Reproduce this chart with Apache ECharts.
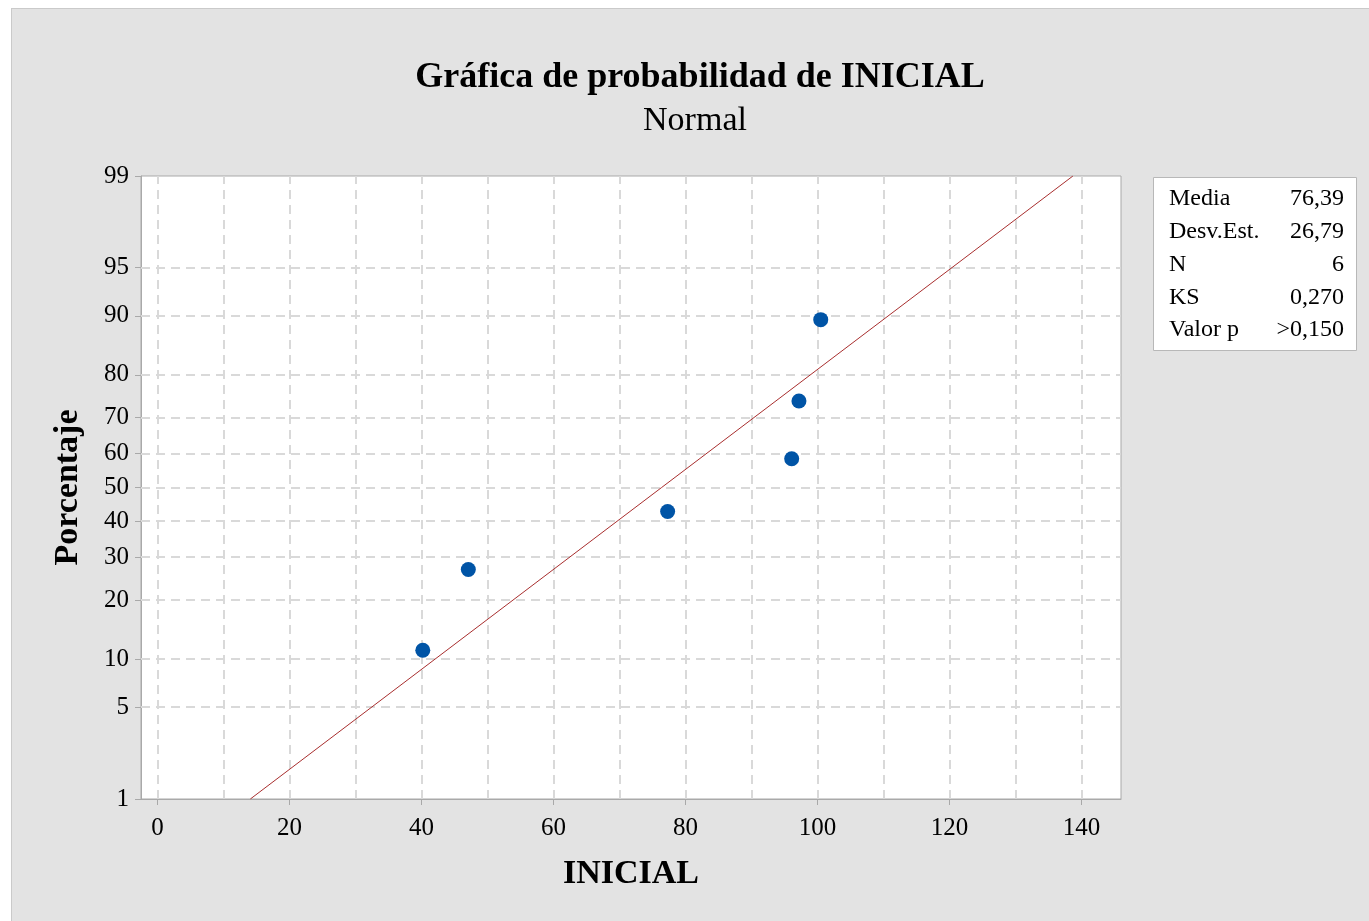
<!DOCTYPE html>
<html>
<head>
<meta charset="utf-8">
<script src="https://cdn.jsdelivr.net/npm/echarts@6/dist/echarts.min.js"></script>
<style>
  html, body { margin: 0; padding: 0; background: #ffffff; }
  #bg { position: absolute; left: 11px; top: 8px; width: 1358px; height: 913px;
        background: #e3e3e3; border-left: 1px solid #cacaca; border-top: 1px solid #cacaca;
        box-sizing: border-box; }
  #chart { position: absolute; left: 0; top: 0; width: 1369px; height: 921px; }
</style>
</head>
<body>
<div id="bg"></div>
<div id="chart"></div>
<script>
// Observations of INICIAL and their plotted percentages
const inicialValues = [40.2, 47.1, 77.3, 96.1, 97.2, 100.5];
const percentRanks  = [11.2, 27.0, 42.9, 58.5, 74.1, 89.5];

// Fitted normal line (mean ± z·sd at 1% and 99%)
const fitX   = [14.07, 138.71];
const fitPct = [1, 99];

// Axis ticks
const yTickPct    = [1, 5, 10, 20, 30, 40, 50, 60, 70, 80, 90, 95, 99];
const xLabelTicks = [0, 20, 40, 60, 80, 100, 120, 140];
const xGridTicks  = [0, 10, 20, 30, 40, 50, 60, 70, 80, 90, 100, 110, 120, 130, 140];

// Summary table
const statLabels = ['Media', 'Desv.Est.', 'N', 'KS', 'Valor p'];
const statValues = ['76,39', '26,79', '6', '0,270', '>0,150'];

// Inverse standard normal CDF (Acklam), used as the probability-axis transform
function probit(p) {
  const a = [-3.969683028665376e+01, 2.209460984245205e+02, -2.759285104469687e+02,
             1.383577518672690e+02, -3.066479806614716e+01, 2.506628277459239e+00];
  const b = [-5.447609879822406e+01, 1.615858368580409e+02, -1.556989798598866e+02,
             6.680131188771972e+01, -1.328068155288572e+01];
  const c = [-7.784894002430293e-03, -3.223964580411365e-01, -2.400758277161838e+00,
             -2.549732539343734e+00, 4.374664141464968e+00, 2.938163982698783e+00];
  const d = [7.784695709041462e-03, 3.224671290700398e-01, 2.445134137142996e+00,
             3.754408661907416e+00];
  const pl = 0.02425, ph = 1 - pl;
  let q, r;
  if (p < pl) {
    q = Math.sqrt(-2 * Math.log(p));
    return (((((c[0]*q+c[1])*q+c[2])*q+c[3])*q+c[4])*q+c[5]) /
           ((((d[0]*q+d[1])*q+d[2])*q+d[3])*q+1);
  }
  if (p <= ph) {
    q = p - 0.5; r = q * q;
    return (((((a[0]*r+a[1])*r+a[2])*r+a[3])*r+a[4])*r+a[5])*q /
           (((((b[0]*r+b[1])*r+b[2])*r+b[3])*r+b[4])*r+1);
  }
  q = Math.sqrt(-2 * Math.log(1 - p));
  return -(((((c[0]*q+c[1])*q+c[2])*q+c[3])*q+c[4])*q+c[5]) /
          ((((d[0]*q+d[1])*q+d[2])*q+d[3])*q+1);
}

const yTickZ = yTickPct.map(p => probit(p / 100));
const yMin = yTickZ[0], yMax = yTickZ[yTickZ.length - 1];

function pctLabel(z) {
  let best = 0, bd = Infinity;
  yTickZ.forEach((t, i) => { const dd = Math.abs(t - z); if (dd < bd) { bd = dd; best = i; } });
  return String(yTickPct[best]);
}

const FONT = '"Liberation Serif", "Times New Roman", serif';
const axisGray = '#a9a9a9';

const gridLines = [
  ...xGridTicks.map(v => ({ xAxis: v })),
  ...yTickZ.slice(1, -1).map(v => ({ yAxis: v }))
];

const statRowY = 199, statStep = 32.8;
const statGraphics = [];
statLabels.forEach((lab, i) => {
  statGraphics.push({
    type: 'text', x: 1169, y: statRowY + i * statStep, z: 20,
    style: { text: lab, font: '24px ' + FONT, fill: '#000', textAlign: 'left', textVerticalAlign: 'middle' }
  });
  statGraphics.push({
    type: 'text', x: 1344, y: statRowY + i * statStep, z: 20,
    style: { text: statValues[i], font: '24px ' + FONT, fill: '#000', textAlign: 'right', textVerticalAlign: 'middle' }
  });
});

const chart = echarts.init(document.getElementById('chart'), null, { renderer: 'canvas' });
chart.setOption({
  animation: false,
  backgroundColor: 'transparent',
  textStyle: { fontFamily: FONT },
  grid: {
    left: 141, top: 176, right: 248, bottom: 122,
    show: true, backgroundColor: '#ffffff', borderColor: axisGray, borderWidth: 1
  },
  xAxis: {
    type: 'value', min: -2.5, max: 146,
    name: 'INICIAL', nameLocation: 'middle', nameGap: 58,
    nameTextStyle: { fontSize: 34, fontWeight: 'bold', color: '#000', fontFamily: FONT },
    axisLine: { show: true, onZero: false, lineStyle: { color: axisGray } },
    axisTick: { show: true, customValues: xLabelTicks, length: 6, lineStyle: { color: axisGray } },
    axisLabel: { customValues: xLabelTicks, fontSize: 25, color: '#000', margin: 17, fontFamily: FONT },
    splitLine: { show: false }
  },
  yAxis: {
    type: 'value', min: yMin, max: yMax,
    name: 'Porcentaje', nameLocation: 'middle', nameGap: 56,
    nameTextStyle: { fontSize: 34, fontWeight: 'bold', color: '#000', fontFamily: FONT },
    axisLine: { show: true, onZero: false, lineStyle: { color: axisGray } },
    axisTick: { show: true, customValues: yTickZ, length: 6, lineStyle: { color: axisGray } },
    axisLabel: { customValues: yTickZ, formatter: v => pctLabel(v), fontSize: 25, color: '#000', margin: 12, fontFamily: FONT },
    splitLine: { show: false }
  },
  series: [
    {
      type: 'line', data: [], silent: true, z: 1,
      markLine: {
        z: 1, silent: true, symbol: ['none', 'none'], label: { show: false },
        lineStyle: { type: [9, 6], color: '#d9d9d9', width: 2 },
        emphasis: { disabled: true },
        data: gridLines
      }
    },
    {
      type: 'line', z: 3, symbol: 'none', silent: true,
      lineStyle: { color: '#a82e2e', width: 1 },
      data: fitX.map((x, i) => [x, probit(fitPct[i] / 100)])
    },
    {
      type: 'scatter', z: 6, symbol: 'circle', symbolSize: 15,
      itemStyle: { color: '#0054a6', opacity: 1 },
      data: inicialValues.map((x, i) => [x, probit(percentRanks[i] / 100)])
    }
  ],
  graphic: [
    {
      type: 'text', x: 700, y: 78, z: 20,
      style: { text: 'Gráfica de probabilidad de INICIAL', font: 'bold 36px ' + FONT, fill: '#000',
               textAlign: 'center', textVerticalAlign: 'middle' }
    },
    {
      type: 'text', x: 695, y: 121, z: 20,
      style: { text: 'Normal', font: '34px ' + FONT, fill: '#000', textAlign: 'center', textVerticalAlign: 'middle' }
    },
    {
      type: 'rect', z: 19,
      shape: { x: 1153.5, y: 177.5, width: 203, height: 173 },
      style: { fill: '#ffffff', stroke: '#b8b8b8', lineWidth: 1 }
    },
    ...statGraphics
  ]
});
</script>
</body>
</html>
